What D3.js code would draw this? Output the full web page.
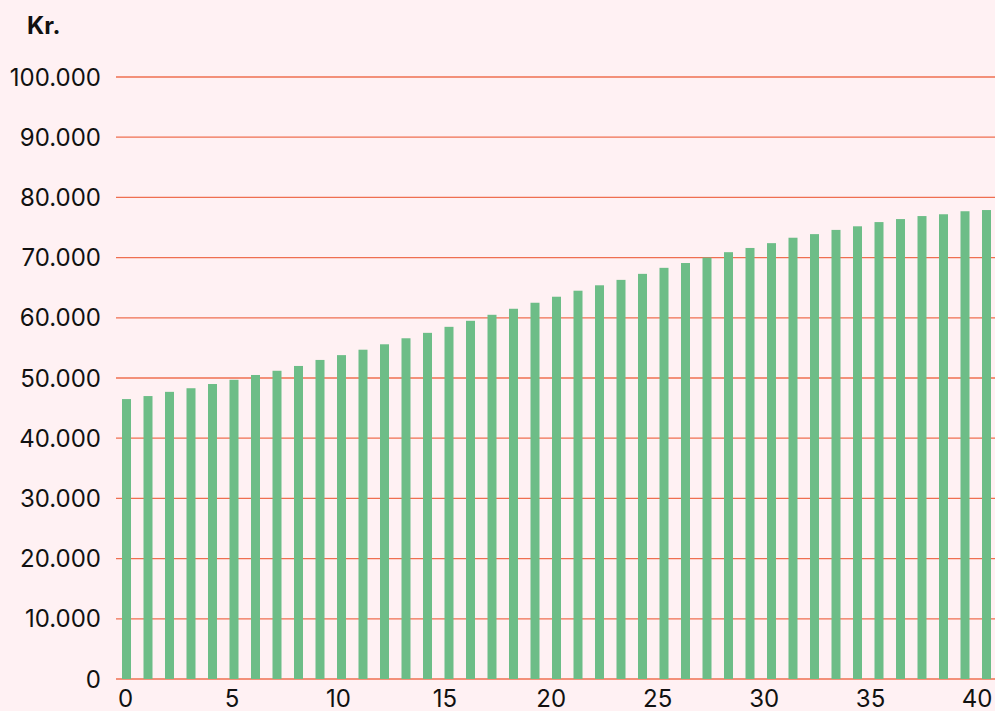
<!DOCTYPE html>
<html>
<head>
<meta charset="utf-8">
<script src="https://cdn.jsdelivr.net/npm/d3@7"></script>
<style>
  html, body { margin: 0; padding: 0; background: #fff1f3; }
  svg { display: block; }
  text { font-family: Inter, "Noto Sans", sans-serif; fill: #111; }
</style>
</head>
<body>
<svg id="chart" width="995" height="711"></svg>
<script>
const years = d3.range(0, 41);
const values = [
  46500, 47000, 47700, 48300, 49000, 49700, 50500, 51200, 52000, 53000,
  53800, 54700, 55600, 56600, 57500, 58500, 59500, 60500, 61500, 62500,
  63500, 64500, 65400, 66300, 67300, 68300, 69100, 70000, 70900, 71600,
  72400, 73300, 73900, 74600, 75200, 75900, 76400, 76900, 77200, 77700, 77900
];
const yTicks = [0, 10000, 20000, 30000, 40000, 50000, 60000, 70000, 80000, 90000, 100000];
const xTicks = [0, 5, 10, 15, 20, 25, 30, 35, 40];
const yUnit = "Kr.";

const svg = d3.select("#chart");
const W = 995, H = 711;
svg.append("rect").attr("width", W).attr("height", H).attr("fill", "#fff1f3");

const locale = d3.formatLocale({decimal: ",", thousands: ".", grouping: [3], currency: ["", " kr."]});
const fmt = locale.format(",d");

const y = d3.scaleLinear().domain([0, 100000]).range([679, 77]);
const x = d3.scaleBand().domain(years).range([122, 991]).paddingInner(0.5814).paddingOuter(0);
const xLab = d3.scaleLinear().domain([0, 40]).range([125.5, 977]);

// gridlines
svg.append("g").selectAll("line").data(yTicks).join("line")
  .attr("x1", 116).attr("x2", W)
  .attr("y1", d => y(d)).attr("y2", d => y(d))
  .attr("stroke", "#ef6f50").attr("stroke-width", 1.3);

// y labels
svg.append("g").selectAll("text").data(yTicks).join("text")
  .attr("x", 101).attr("y", d => y(d)).attr("dy", "0.36em")
  .attr("text-anchor", "end")
  .attr("font-size", 24)
  .text(d => fmt(d));

// unit
svg.append("text").attr("x", 27).attr("y", 34)
  .attr("font-size", 24).attr("font-weight", 700).text(yUnit);

// bars
svg.append("g").selectAll("rect").data(values).join("rect")
  .attr("x", (d, i) => x(years[i]))
  .attr("width", x.bandwidth())
  .attr("y", d => y(d))
  .attr("height", d => y(0) - y(d))
  .attr("fill", "#6dbd87");

// x labels
svg.append("g").selectAll("text").data(xTicks).join("text")
  .attr("x", d => xLab(d)).attr("y", 707)
  .attr("text-anchor", "middle")
  .attr("font-size", 24)
  .text(d => d);
</script>
</body>
</html>
